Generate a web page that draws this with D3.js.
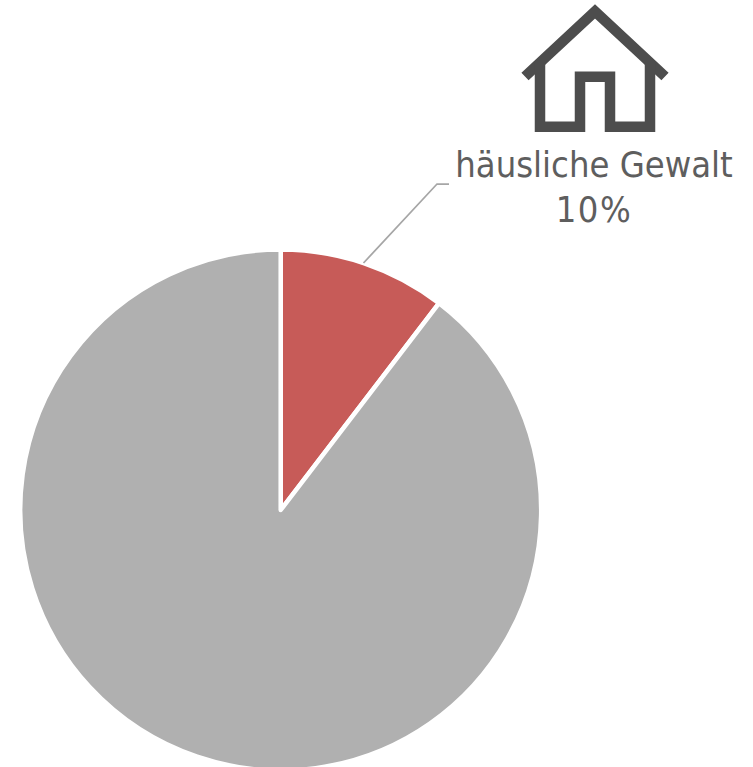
<!DOCTYPE html>
<html><head><meta charset="utf-8">
<script src="https://cdn.jsdelivr.net/npm/d3@7"></script>
<style>html,body{margin:0;padding:0;background:#fff;overflow:hidden}svg{display:block}</style>
</head><body><svg id="c" width="753" height="767"></svg>
<script>
const categories = ["häusliche Gewalt", "andere"];
const values = [10.4, 89.6];
const labelLines = ["häusliche Gewalt", "10%"];
const colors = ["#c75b58", "#b0b0b0"];
const leaderPoints = [[363.5,263],[437,184],[449,184]];
const housePoints = {
  roof: [[525,76.5],[595,11.5],[665,76.5]],
  body: [[540,63],[540,126.7],[580,126.7],[580,76.7],[610,76.7],[610,126.7],[650,126.7],[650,63]]
};
const svg = d3.select("#c");
const cx = 280.7, cy = 510, r = 260.5;
const pie = d3.pie().sort(null).value(d => d.value);
const arc = d3.arc().innerRadius(0).outerRadius(r);
const color = d3.scaleOrdinal(categories, colors);
svg.append("g").attr("transform", `translate(${cx},${cy})`)
  .selectAll("path").data(pie(categories.map((c,i)=>({category:c,value:values[i]})))).join("path")
  .attr("d", arc).attr("fill", d => color(d.data.category))
  .attr("stroke", "#fff").attr("stroke-width", 4.5).attr("stroke-linejoin","round");
const line = d3.line();
svg.append("path").attr("d", line(leaderPoints)).attr("fill","none").attr("stroke","#a6a6a6").attr("stroke-width",1.75);
const house = svg.append("g").attr("fill","none").attr("stroke","#4d4d4d").attr("stroke-width",10.5).attr("stroke-linejoin","miter").attr("stroke-miterlimit",10);
house.append("path").attr("d", line(housePoints.roof));
house.append("path").attr("d", line(housePoints.body));
svg.append("g").selectAll("text").data(labelLines).join("text")
  .attr("x", 594).attr("y", (d,i)=>177+i*45)
  .attr("text-anchor","middle").attr("fill","#5e5e5e")
  .attr("font-family","'DejaVu Sans Condensed','DejaVu Sans',sans-serif")
  .attr("font-stretch","condensed")
  .attr("letter-spacing",(d,i)=>i?1.5:0)
  .attr("font-size",36).text(d=>d);
</script></body></html>
